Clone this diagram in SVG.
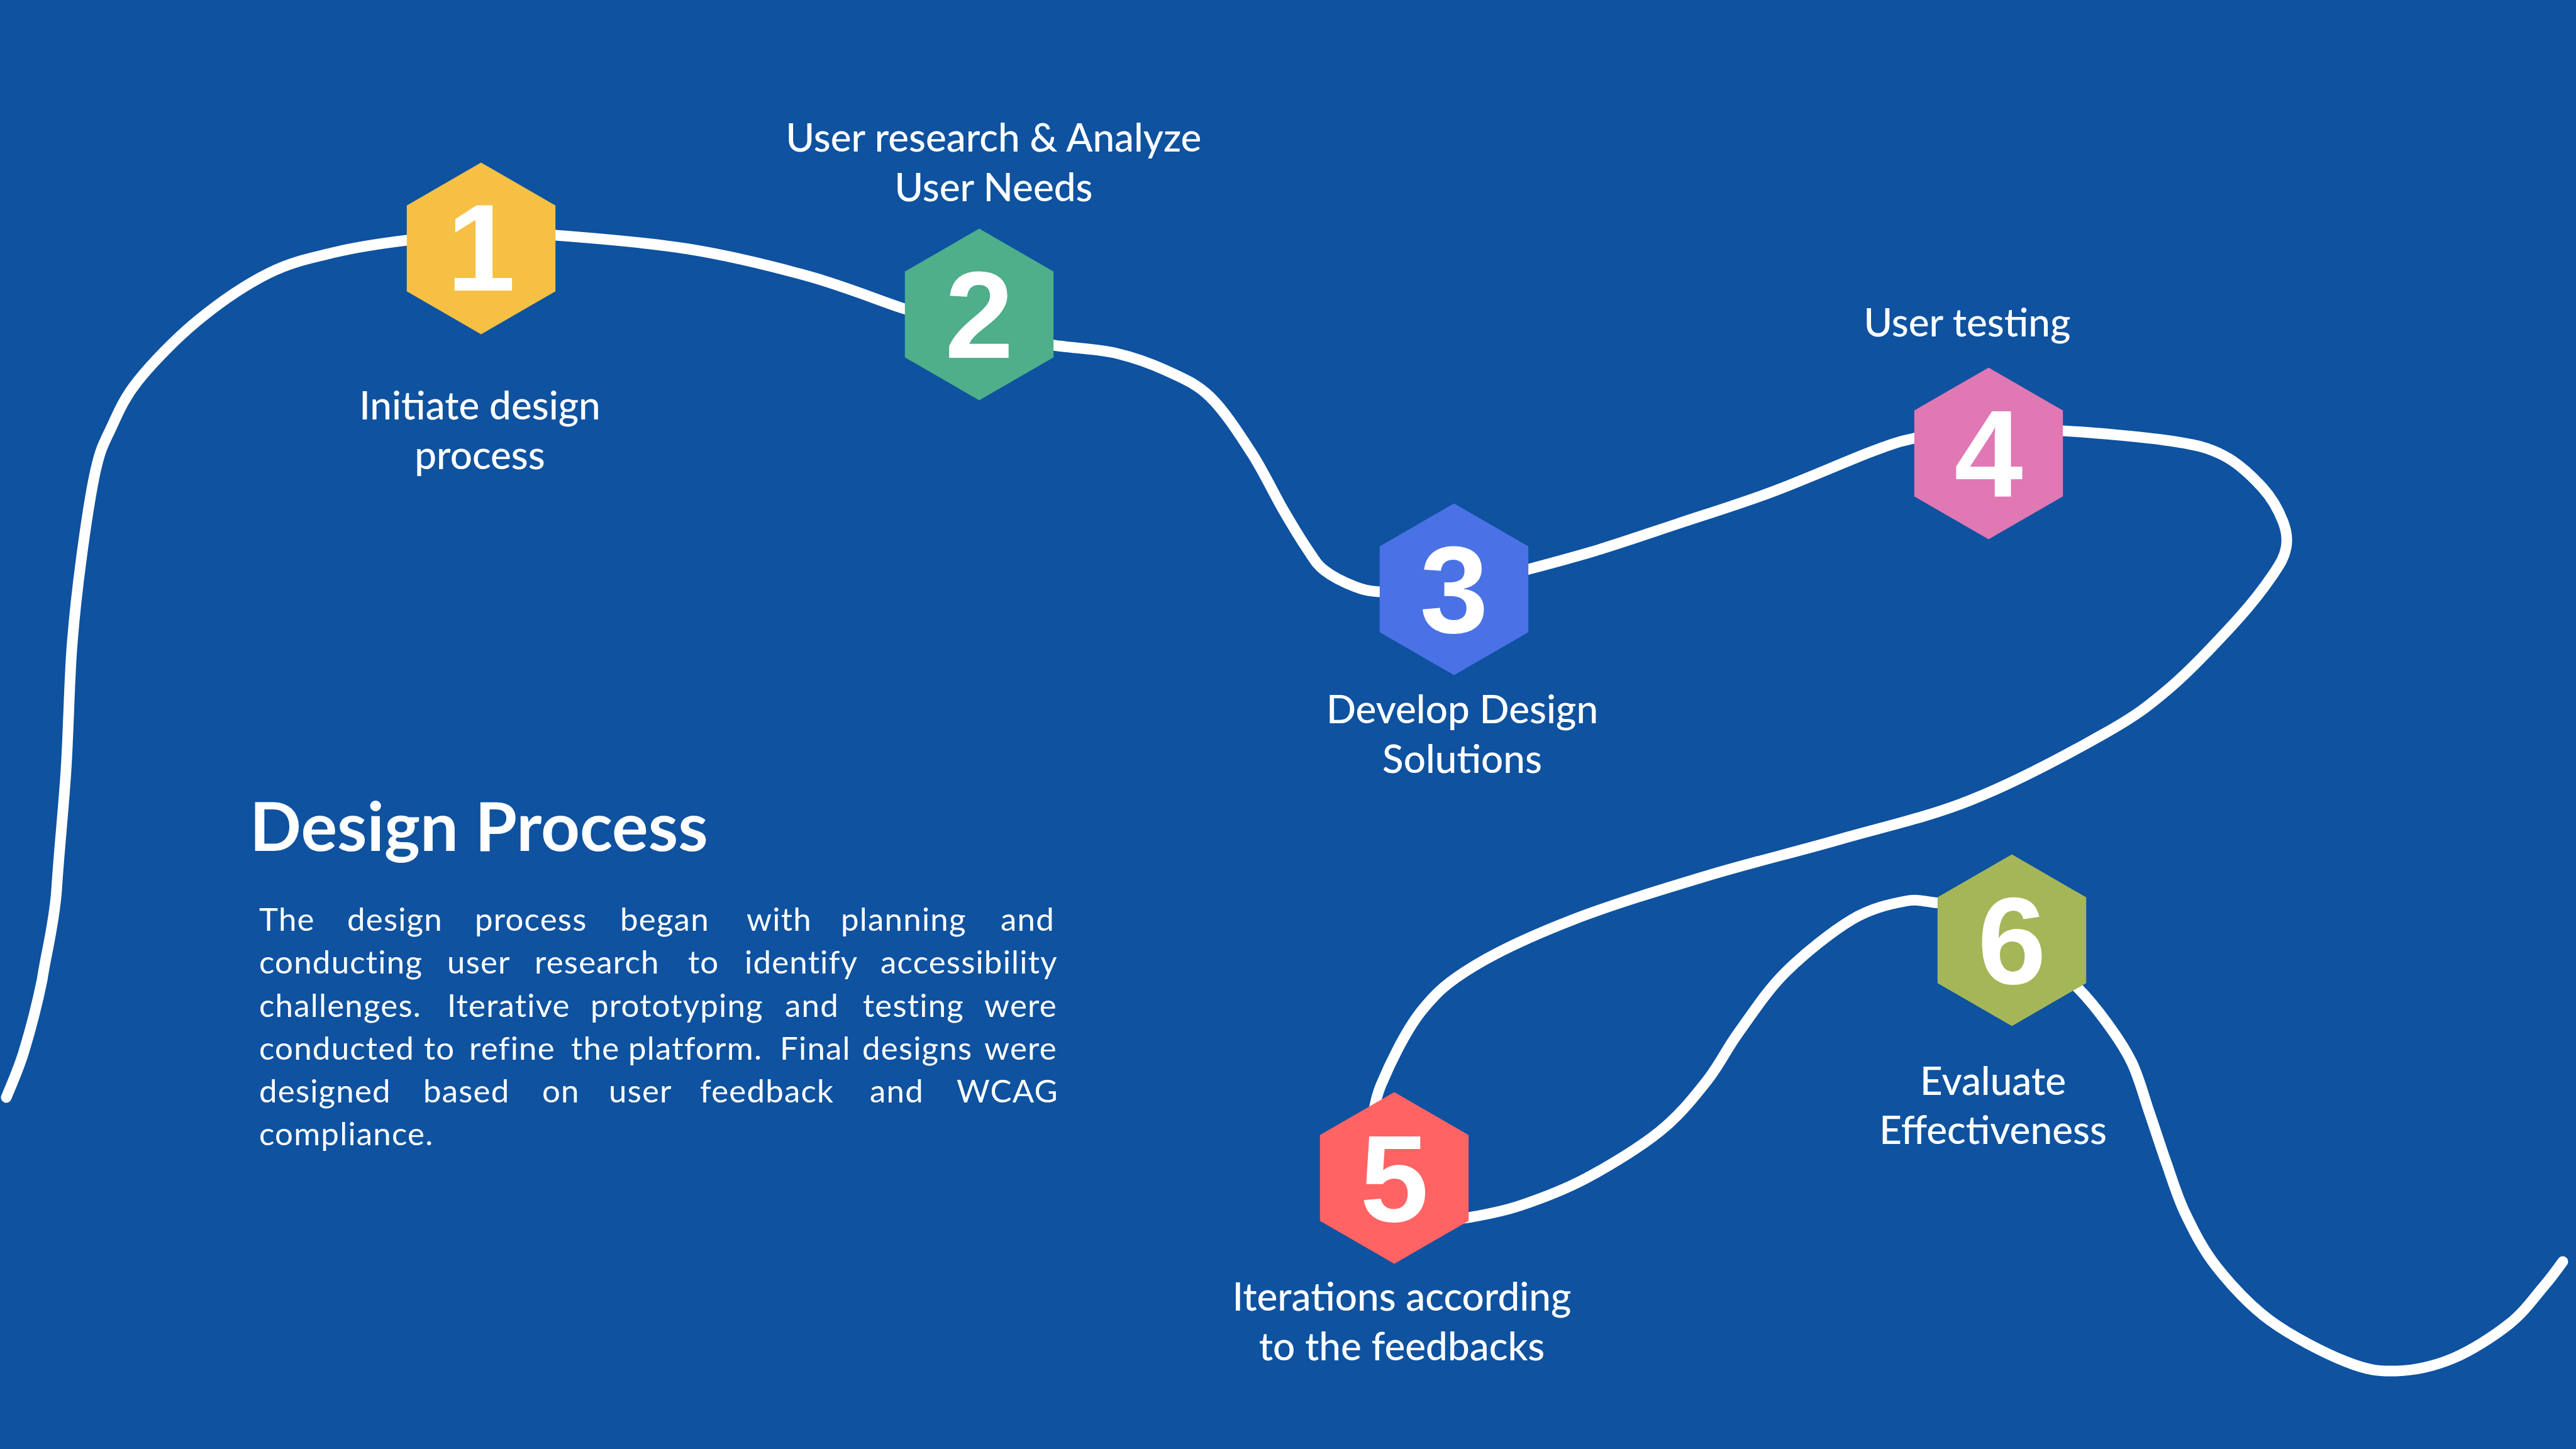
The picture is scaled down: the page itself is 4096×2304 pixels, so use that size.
<svg xmlns="http://www.w3.org/2000/svg" xmlns:xlink="http://www.w3.org/1999/xlink" width="4096" height="2304" viewBox="0 0 4096 2304">
<defs>
<style>
.conn{fill:none;stroke:#ffffff;stroke-width:17;stroke-linecap:round;stroke-linejoin:round}
.num{font-family:'Liberation Sans',Arial,sans-serif;font-weight:700;font-size:196px;fill:#ffffff;text-anchor:middle}
.lbl{font-family:Lato,'Open Sans',sans-serif;font-weight:500;font-size:62px;fill:#ffffff;text-anchor:middle}
.head{font-family:Lato,'Open Sans',sans-serif;font-weight:700;font-size:108px;fill:#ffffff}
.body{font-family:Lato,'Open Sans',sans-serif;font-weight:400;font-size:51px;letter-spacing:1.2px;fill:#ffffff}
</style>
<polygon id="hex" points="0,-136.5 118.2,-68.25 118.2,68.25 0,136.5 -118.2,68.25 -118.2,-68.25"/>
</defs>
<rect x="0" y="0" width="4096" height="2304" fill="#0E52A0"/>

<g id="connectors">
<path class="conn" d="M10,1745 C14.7,1732.8 28.5,1703.2 38,1672 C47.5,1640.8 58.3,1600.8 67,1558 C73.3,1515.3 86,1470.7 90,1415 C94,1351.5 101,1287.5 105,1224 C109,1160.5 110,1089.5 114,1034 C118,978.5 122.7,938.7 129,891 C135.3,843.3 144.2,782.8 152,748 C159.8,713.2 164.8,705.7 176,682 C187.2,658.3 196,634.7 219,606 C242,577.3 279.2,538.7 314,510 C348.8,481.3 391.5,452.2 428,434 C464.5,415.8 496.5,409.7 533,401 C569.5,392.3 615.8,385.8 647,382 C678.2,378.2 707.8,378.7 720,378"/>
<path class="conn" d="M820,375 C830.5,374.8 837.2,370.5 883,374 C928.8,377.5 1028,385.2 1095,396 C1162,406.8 1227.8,423.2 1285,439 C1342.2,454.8 1402.2,479.5 1438,491 C1473.8,502.5 1489.7,505.2 1500,508"/>
<path class="conn" d="M1610,535 C1621,537.3 1649,544.7 1676,549 C1703,553.3 1742.3,554.3 1772,561 C1801.7,567.7 1828.7,577.3 1854,589 C1879.3,600.7 1901.3,609.2 1924,631 C1946.7,652.8 1970.7,690.2 1990,720 C2009.3,749.8 2025,784.2 2040,810 C2055,835.8 2069,858.8 2080,875 C2091,891.2 2093.5,897.3 2106,907 C2118.5,916.7 2140.3,927.3 2155,933 C2169.7,938.7 2176.5,939.5 2194,941 C2211.5,942.5 2249,941.8 2260,942"/>
<path class="conn" d="M2370,920 C2380.2,917.5 2404.5,912 2431,905 C2457.5,898 2489.7,889.5 2529,878 C2568.3,866.5 2618.8,849 2667,833 C2715.2,817 2766.5,801.2 2818,782 C2869.5,762.8 2938.5,732.2 2976,718 C3013.5,703.8 3020.7,702 3043,697 C3065.3,692 3098.8,689.5 3110,688"/>
<path class="conn" d="M3200,687 C3213.3,686.7 3238.2,682.7 3280,685 C3321.8,687.3 3408.5,694.5 3451,701 C3493.5,707.5 3510.5,711.5 3535,724 C3559.5,736.5 3582.2,758.5 3598,776 C3613.8,793.5 3623.8,813.2 3630,829 C3636.2,844.8 3637.7,856.8 3635,871 C3632.3,885.2 3627.2,894.7 3614,914 C3600.8,933.3 3583.2,957.2 3556,987 C3528.8,1016.8 3486.2,1063 3451,1093 C3415.8,1123 3397.8,1137.2 3345,1167 C3292.2,1196.8 3204.2,1244 3134,1272 C3063.8,1300 2994.2,1314.8 2924,1335 C2853.8,1355.2 2783.3,1371.8 2713,1393 C2642.7,1414.2 2563.5,1438.2 2502,1462 C2440.5,1485.8 2384.5,1511.5 2344,1536 C2303.5,1560.5 2283.7,1577.5 2259,1609 C2234.3,1640.5 2209.2,1693.2 2196,1725 C2182.8,1756.8 2182.7,1787.5 2180,1800"/>
<path class="conn" d="M2290,1940 C2297.5,1939.3 2313.8,1939.8 2335,1936 C2356.2,1932.2 2385.7,1927.5 2417,1917 C2448.3,1906.5 2486,1892.7 2523,1873 C2560,1853.3 2607.3,1824.5 2639,1799 C2670.7,1773.5 2692,1746.3 2713,1720 C2734,1693.7 2744,1670 2765,1641 C2786,1612 2809,1575.8 2839,1546 C2869,1516.2 2913.3,1480.8 2945,1462 C2976.7,1443.2 3006.5,1437.4 3029,1433 C3051.5,1428.6 3061.5,1434.3 3080,1435.5 C3098.5,1436.7 3130,1439.3 3140,1440"/>
<path class="conn" d="M3250,1525 C3259,1532.7 3287.5,1554.3 3304,1571 C3320.5,1587.7 3334.7,1605.2 3349,1625 C3363.3,1644.8 3378.5,1665.8 3390,1690 C3401.5,1714.2 3408.8,1743.3 3418,1770 C3427.2,1796.7 3435.5,1823.3 3445,1850 C3454.5,1876.7 3461.7,1902.5 3475,1930 C3488.3,1957.5 3502.5,1986.7 3525,2015 C3547.5,2043.3 3575.8,2075 3610,2100 C3644.2,2125 3696.7,2151.7 3730,2165 C3763.3,2178.3 3781.7,2180.8 3810,2180 C3838.3,2179.2 3870,2172.5 3900,2160 C3930,2147.5 3965.8,2124.2 3990,2105 C4014.2,2085.8 4030.8,2061.5 4045,2045 C4059.2,2028.5 4070,2012.5 4075,2006"/>
</g>

<g id="node-1">
<use xlink:href="#hex" href="#hex" x="765" y="395" fill="#F5C044"/>
<text class="num" x="765" y="462">1</text>
<text class="lbl" x="763" y="667">Initiate design</text>
<text class="lbl" x="763" y="746">process</text>
</g>

<g id="node-2">
<use xlink:href="#hex" href="#hex" x="1557" y="500" fill="#4EAF8A"/>
<text class="num" x="1557" y="569">2</text>
<text class="lbl" x="1580" y="241">User research &amp; Analyze</text>
<text class="lbl" x="1580" y="320">User Needs</text>
</g>

<g id="node-3">
<use xlink:href="#hex" href="#hex" x="2312" y="937" fill="#4A72E6"/>
<text class="num" x="2312" y="1006">3</text>
<text class="lbl" x="2325" y="1150">Develop Design</text>
<text class="lbl" x="2325" y="1229">Solutions</text>
</g>

<g id="node-4">
<use xlink:href="#hex" href="#hex" x="3162" y="721" fill="#E078B4"/>
<text class="num" x="3162" y="790">4</text>
<text class="lbl" x="3128" y="535">User testing</text>
</g>

<g id="node-5">
<use xlink:href="#hex" href="#hex" x="2217" y="1873" fill="#FF6363"/>
<text class="num" x="2217" y="1942">5</text>
<text class="lbl" x="2229" y="2084">Iterations according</text>
<text class="lbl" x="2229" y="2163">to the feedbacks</text>
</g>

<g id="node-6">
<use xlink:href="#hex" href="#hex" x="3199" y="1495" fill="#A4B658"/>
<text class="num" x="3199" y="1564">6</text>
<text class="lbl" x="3169" y="1741">Evaluate</text>
<text class="lbl" x="3169" y="1819">Effectiveness</text>
</g>

<g id="description">
<text class="head" x="397" y="1353">Design Process</text>
<text class="body">
<tspan x="412" y="1480">The</tspan><tspan x="552" y="1480">design</tspan><tspan x="755" y="1480">process</tspan><tspan x="986" y="1480">began</tspan><tspan x="1187" y="1480">with</tspan><tspan x="1337" y="1480">planning</tspan><tspan x="1591" y="1480">and</tspan>
<tspan x="412" y="1548">conducting</tspan><tspan x="711" y="1548">user</tspan><tspan x="850" y="1548">research</tspan><tspan x="1094" y="1548">to</tspan><tspan x="1184" y="1548">identify</tspan><tspan x="1400" y="1548">accessibility</tspan>
<tspan x="412" y="1616.5">challenges.</tspan><tspan x="711" y="1616.5">Iterative</tspan><tspan x="939" y="1616.5">prototyping</tspan><tspan x="1248" y="1616.5">and</tspan><tspan x="1372" y="1616.5">testing</tspan><tspan x="1565" y="1616.5">were</tspan>
<tspan x="412" y="1684.5">conducted</tspan><tspan x="674" y="1684.5">to</tspan><tspan x="746" y="1684.5">refine</tspan><tspan x="908" y="1684.5">the</tspan><tspan x="999" y="1684.5">platform.</tspan><tspan x="1240" y="1684.5">Final</tspan><tspan x="1371" y="1684.5">designs</tspan><tspan x="1565" y="1684.5">were</tspan>
<tspan x="412" y="1752.5">designed</tspan><tspan x="673" y="1752.5">based</tspan><tspan x="862" y="1752.5">on</tspan><tspan x="968" y="1752.5">user</tspan><tspan x="1113" y="1752.5">feedback</tspan><tspan x="1383" y="1752.5">and</tspan><tspan x="1521" y="1752.5">WCAG</tspan>
<tspan x="412" y="1820.5">compliance.</tspan>
</text>
</g>
</svg>
